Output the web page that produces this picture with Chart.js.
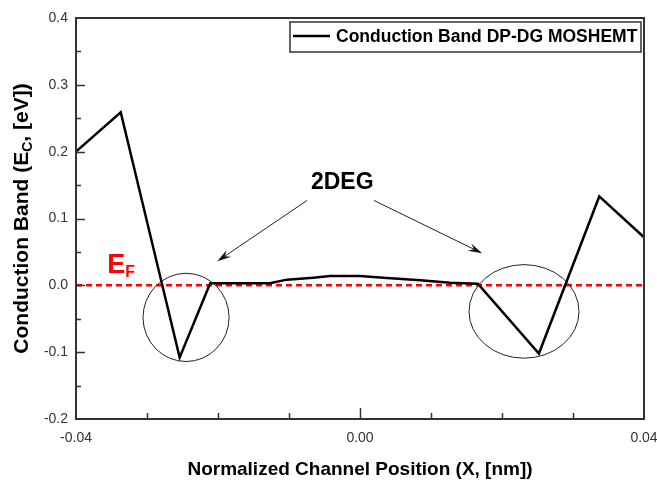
<!DOCTYPE html>
<html>
<head>
<meta charset="utf-8">
<script src="https://cdn.jsdelivr.net/npm/chart.js@4/dist/chart.umd.min.js"></script>
<style>
  html, body { margin: 0; padding: 0; background: #fff; }
  #wrap { width: 657px; height: 481px; position: relative; }
</style>
</head>
<body>
<div id="wrap"><canvas id="bandChart"></canvas></div>
<script>
// conduction band profile along the channel
const posX = [-0.04, -0.0337, -0.0254, -0.0211, -0.0127, -0.0103, -0.0066, -0.0042, 0.0, 0.0038, 0.0085, 0.0127, 0.0166, 0.0252, 0.0337, 0.04];
const bandEc = [0.200, 0.259, -0.108, 0.003, 0.003, 0.0085, 0.0115, 0.014, 0.014, 0.011, 0.0075, 0.004, 0.0025, -0.102, 0.133, 0.072];

// Fermi level
const fermiX = [-0.04, 0.04];
const fermiE = [0, 0];

const xTickLabels = ['-0.04', '0.00', '0.04'];
const yTickLabels = ['-0.2', '-0.1', '0.0', '0.1', '0.2', '0.3', '0.4'];

const seriesName = 'Conduction Band DP-DG MOSHEMT';
// y title pieces: main text, subscript, rest
const yTitle = ['Conduction Band (E', 'C', ', [eV])'];

// annotation anchors (data units)
const wells = [
    { cx: -0.0245, cy: -0.048, rx: 0.00606, ry: 0.066 },
    { cx: 0.0231, cy: -0.039, rx: 0.00775, ry: 0.070 }
];
const arrows = [
    { from: [-0.00746, 0.127], to: [-0.0201, 0.036] },
    { from: [0.00197, 0.127], to: [0.0172, 0.048] }
];
const degLabel = { text: '2DEG', x: -0.0025, y: 0.153 };
const efLabel = { x: -0.0356, y: 0.018 };

const FONT = "'Liberation Sans', Arial, sans-serif";

const toPoints = (xs, ys) => xs.map((x, i) => ({ x, y: ys[i] }));

function drawArrow(ctx, x1, y1, x2, y2) {
    const ang = Math.atan2(y2 - y1, x2 - x1);
    const len = 14, half = 4;
    ctx.beginPath();
    ctx.moveTo(x1, y1);
    ctx.lineTo(x2 - Math.cos(ang) * 6, y2 - Math.sin(ang) * 6);
    ctx.stroke();
    ctx.beginPath();
    ctx.moveTo(x2, y2);
    ctx.lineTo(x2 - len * Math.cos(ang) + half * Math.sin(ang), y2 - len * Math.sin(ang) - half * Math.cos(ang));
    ctx.lineTo(x2 - 9 * Math.cos(ang), y2 - 9 * Math.sin(ang));
    ctx.lineTo(x2 - len * Math.cos(ang) - half * Math.sin(ang), y2 - len * Math.sin(ang) + half * Math.cos(ang));
    ctx.closePath();
    ctx.fill();
}

const decorations = {
    id: 'decorations',
    afterDraw(chart) {
        const { ctx, chartArea: a, scales: { x, y } } = chart;
        ctx.save();

        // inner ticks
        ctx.strokeStyle = '#333';
        ctx.lineWidth = 1.5;
        x.ticks.forEach((t, i) => {
            const px = Math.round(x.getPixelForValue(t.value)) + 0.5;
            if (px <= a.left + 1 || px >= a.right - 1) return;
            const len = i % 4 === 0 ? 11 : 6;
            ctx.beginPath();
            ctx.moveTo(px, a.bottom);
            ctx.lineTo(px, a.bottom - len);
            ctx.stroke();
        });
        y.ticks.forEach((t, i) => {
            const py = Math.round(y.getPixelForValue(t.value)) + 0.5;
            if (py > a.top + 1 && py < a.bottom - 1) {
                ctx.beginPath();
                ctx.moveTo(a.left, py);
                ctx.lineTo(a.left + 9, py);
                ctx.stroke();
            }
            if (i < y.ticks.length - 1) {
                const mid = Math.round(y.getPixelForValue(t.value + 0.05)) + 0.5;
                ctx.beginPath();
                ctx.moveTo(a.left, mid);
                ctx.lineTo(a.left + 5, mid);
                ctx.stroke();
            }
        });

        // frame
        ctx.lineWidth = 2;
        ctx.strokeStyle = '#333';
        ctx.strokeRect(a.left, a.top, a.right - a.left, a.bottom - a.top);

        // y axis title with subscript
        ctx.save();
        ctx.translate(22, (a.top + a.bottom) / 2);
        ctx.rotate(-Math.PI / 2);
        ctx.fillStyle = '#000';
        ctx.textBaseline = 'middle';
        ctx.textAlign = 'left';
        const big = `bold 21px ${FONT}`, small = `bold 14px ${FONT}`;
        ctx.font = big;
        const w0 = ctx.measureText(yTitle[0]).width, w2 = ctx.measureText(yTitle[2]).width;
        ctx.font = small;
        const w1 = ctx.measureText(yTitle[1]).width;
        let tx = -(w0 + w1 + w2) / 2;
        ctx.font = big;
        ctx.fillText(yTitle[0], tx, 0);
        tx += w0;
        ctx.font = small;
        ctx.fillText(yTitle[1], tx, 6);
        tx += w1;
        ctx.font = big;
        ctx.fillText(yTitle[2], tx, 0);
        ctx.restore();

        // well markers
        ctx.lineWidth = 1;
        ctx.strokeStyle = '#222';
        wells.forEach(w => {
            const cx = x.getPixelForValue(w.cx), cy = y.getPixelForValue(w.cy);
            const rx = Math.abs(x.getPixelForValue(w.cx + w.rx) - cx);
            const ry = Math.abs(y.getPixelForValue(w.cy + w.ry) - cy);
            ctx.beginPath();
            ctx.ellipse(cx, cy, rx, ry, 0, 0, Math.PI * 2);
            ctx.stroke();
        });

        // arrows to the wells
        ctx.fillStyle = '#111';
        arrows.forEach(ar => {
            drawArrow(ctx,
                x.getPixelForValue(ar.from[0]), y.getPixelForValue(ar.from[1]),
                x.getPixelForValue(ar.to[0]), y.getPixelForValue(ar.to[1]));
        });

        // 2DEG label
        ctx.fillStyle = '#000';
        ctx.font = `bold 23px ${FONT}`;
        ctx.textAlign = 'center';
        ctx.textBaseline = 'middle';
        ctx.fillText(degLabel.text, x.getPixelForValue(degLabel.x), y.getPixelForValue(degLabel.y));

        // E_F label
        const ex = x.getPixelForValue(efLabel.x), ey = y.getPixelForValue(efLabel.y);
        ctx.fillStyle = '#ff0000';
        ctx.textAlign = 'left';
        ctx.textBaseline = 'alphabetic';
        ctx.font = `bold 27px ${FONT}`;
        ctx.fillText('E', ex, ey);
        const ew = ctx.measureText('E').width;
        ctx.font = `bold 16px ${FONT}`;
        ctx.fillText('F', ex + ew, ey + 4);

        // legend box
        const lx = 290, ly = 22, lw = 351, lh = 30;
        ctx.strokeStyle = '#333';
        ctx.lineWidth = 1.5;
        ctx.strokeRect(lx, ly, lw, lh);
        ctx.strokeStyle = '#000';
        ctx.lineWidth = 2.5;
        ctx.beginPath();
        ctx.moveTo(lx + 3, ly + 14);
        ctx.lineTo(lx + 40, ly + 14);
        ctx.stroke();
        ctx.fillStyle = '#000';
        ctx.font = `bold 17.5px ${FONT}`;
        ctx.textBaseline = 'middle';
        ctx.fillText(chart.data.datasets[0].label, lx + 46, ly + 15);

        ctx.restore();
    }
};

new Chart(document.getElementById('bandChart'), {
    type: 'line',
    data: {
        datasets: [
            {
                label: seriesName,
                data: toPoints(posX, bandEc),
                borderColor: '#000',
                borderWidth: 2.5,
                pointRadius: 0,
                tension: 0,
                order: 1
            },
            {
                label: 'EF',
                data: toPoints(fermiX, fermiE),
                borderColor: '#ff0000',
                borderWidth: 2.5,
                borderDash: [6, 4],
                pointRadius: 0,
                order: 2
            }
        ]
    },
    options: {
        responsive: true,
        maintainAspectRatio: false,
        animation: false,
        layout: { padding: { top: 18, right: 13, left: 0, bottom: 0 } },
        plugins: {
            legend: { display: false },
            tooltip: { enabled: false }
        },
        scales: {
            x: {
                type: 'linear',
                min: -0.04,
                max: 0.04,
                grid: { display: false, drawTicks: false },
                border: { display: false },
                ticks: {
                    stepSize: 0.01,
                    autoSkip: false,
                    maxRotation: 0,
                    padding: 11,
                    color: '#333',
                    font: { family: FONT, size: 14 },
                    callback: (v, i) => (i % 4 === 0 ? xTickLabels[i / 4] : '')
                },
                title: {
                    display: true,
                    text: 'Normalized Channel Position (X, [nm])',
                    color: '#000',
                    font: { family: FONT, size: 19, weight: 'bold' },
                    padding: { top: 0, bottom: 0 }
                },
                afterFit: s => { s.height = 62; s.paddingLeft = 0; s.paddingRight = 0; }
            },
            y: {
                min: -0.2,
                max: 0.4,
                grid: { display: false, drawTicks: false },
                border: { display: false },
                ticks: {
                    stepSize: 0.1,
                    padding: 8,
                    color: '#333',
                    font: { family: FONT, size: 14 },
                    callback: (v, i) => yTickLabels[i]
                },
                afterFit: s => { s.width = 76; s.paddingTop = 0; s.paddingBottom = 0; }
            }
        }
    },
    plugins: [decorations]
});
</script>
</body>
</html>
